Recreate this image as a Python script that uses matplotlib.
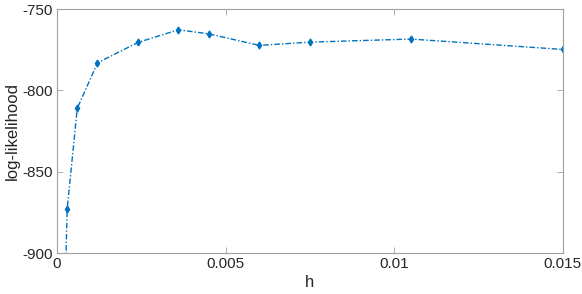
import matplotlib
matplotlib.use('Agg')
import matplotlib.pyplot as plt

# bandwidth h vs log-likelihood
h = [0.00015, 0.0003, 0.0006, 0.0012, 0.0024, 0.0036, 0.0045, 0.006, 0.0075, 0.0105, 0.015]
loglik = [-1000, -873, -811, -783, -770.5, -762.7, -765.2, -772.3, -770.3, -768.4, -774.8]

xticks = [0, 0.005, 0.01, 0.015]
xticklabels = ['0', '0.005', '0.01', '0.015']
yticks = [-900, -850, -800, -750]

plt.rcParams['font.family'] = ['Liberation Sans', 'DejaVu Sans']

fig = plt.figure(figsize=(5.82, 2.94), dpi=100)
ax = fig.add_axes([0.098, 0.139, 0.869, 0.830])

line, = ax.plot(h, loglik, linestyle='-.', color='#0072BD', linewidth=1.0,
                marker='d', markersize=3.5, markerfacecolor='#0072BD', markeredgecolor='#0072BD')
line.set_dashes([4, 1.5, 1, 1.5])

ax.set_xlim(0, 0.015)
ax.set_ylim(-900, -750)
ax.set_xticks(xticks)
ax.set_xticklabels(xticklabels)
ax.set_yticks(yticks)
ax.set_yticklabels([str(v) for v in yticks])

ax.set_xlabel('h', fontsize=12, color='#262626', labelpad=3)
ax.set_ylabel('log-likelihood', fontsize=12, color='#262626', labelpad=2)

for s in ax.spines.values():
    s.set_color('#A0A0A0')
    s.set_linewidth(0.8)
ax.tick_params(direction='in', top=True, right=True, length=4, width=0.6,
               color='#A0A0A0', labelcolor='#262626', labelsize=11, pad=3)

fig.savefig('out.png', dpi=100)
